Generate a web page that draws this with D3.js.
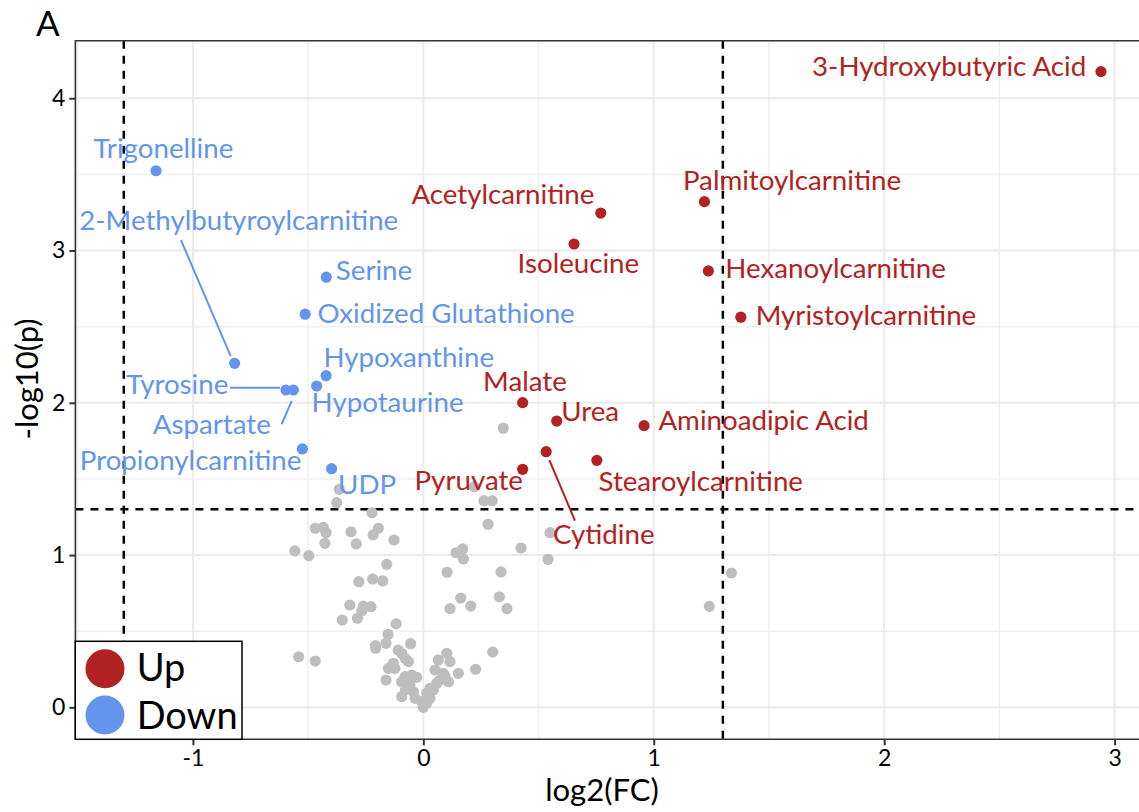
<!DOCTYPE html>
<html>
<head>
<meta charset="utf-8">
<script src="https://cdn.jsdelivr.net/npm/d3@7"></script>
<style>
  body { margin: 0; background: #fff; }
  svg text { font-family: "Lato", "Open Sans", sans-serif; }
</style>
</head>
<body>
<div id="chart"></div>
<script>
// Labelled metabolites: [name, log2FC, -log10p, group]
const sigNames = ["3-Hydroxybutyric Acid", "Trigonelline", "2-Methylbutyroylcarnitine", "Acetylcarnitine",
  "Palmitoylcarnitine", "Isoleucine", "Hexanoylcarnitine", "Myristoylcarnitine", "Serine",
  "Oxidized Glutathione", "Hypoxanthine", "Hypotaurine", "Tyrosine", "Aspartate",
  "Propionylcarnitine", "UDP", "Malate", "Urea", "Aminoadipic Acid", "Pyruvate",
  "Stearoylcarnitine", "Cytidine"];
const sigFC = [2.941, -1.160, -0.819, 0.770, 1.220, 0.654, 1.237, 1.378, -0.421, -0.513, -0.422, -0.463,
  -0.596, -0.564, -0.525, -0.398, 0.431, 0.579, 0.958, 0.431, 0.753, 0.533];
const sigP = [4.175, 3.524, 2.259, 3.246, 3.321, 3.043, 2.866, 2.562, 2.825, 2.582, 2.178, 2.110,
  2.084, 2.084, 1.697, 1.567, 2.001, 1.880, 1.850, 1.563, 1.622, 1.679];
const sigGroup = ["Up", "Down", "Down", "Up", "Up", "Up", "Up", "Up", "Down", "Down", "Down", "Down",
  "Down", "Down", "Down", "Down", "Up", "Up", "Up", "Up", "Up", "Up"];

// Non-significant metabolites
const nsFC = [-0.365, -0.376, 0.221, 0.263, 0.299, 0.347, -0.223, -0.469, -0.434, -0.422, -0.427, -0.314,
  -0.291, -0.218, -0.195, -0.127, 0.281, 0.550, -0.558, -0.497, 0.142, 0.171, 0.174, 0.424, 0.541,
  -0.159, 0.103, 0.337, -0.280, -0.220, -0.176, 0.162, 0.116, 0.206, 0.330, 0.363, -0.319, -0.260,
  -0.227, -0.267, -0.352, -0.286, -0.118, -0.153, -0.208, -0.207, -0.162, -0.055, -0.541, -0.469,
  1.337, 1.241, 0.301, 0.227,
  -0.109, -0.094, -0.079, -0.065, -0.130, -0.152, -0.123, -0.162, -0.079, -0.050, -0.094, -0.058,
  -0.043, -0.036, -0.007, 0.000, 0.015, 0.029, 0.043, 0.058, 0.072, 0.094, 0.109, 0.087, 0.051,
  0.065, 0.102, 0.116, 0.152, 0.029, 0.015, -0.078, -0.094, -0.029];
const nsP = [1.432, 1.344, 1.449, 1.357, 1.357, 1.833, 1.278, 1.176, 1.182, 1.147, 1.077, 1.153,
  1.073, 1.132, 1.176, 1.099, 1.202, 1.147, 1.027, 0.996, 1.015, 1.040, 0.974, 1.046, 0.972,
  0.939, 0.887, 0.889, 0.825, 0.843, 0.830, 0.718, 0.648, 0.665, 0.726, 0.648, 0.672, 0.665,
  0.661, 0.634, 0.573, 0.585, 0.549, 0.479, 0.405, 0.388, 0.420, 0.418, 0.332, 0.304,
  0.882, 0.663, 0.363, 0.250,
  0.376, 0.355, 0.322, 0.300, 0.289, 0.256, 0.256, 0.179, 0.201, 0.212, 0.168, 0.146,
  0.102, 0.059, 0.037, 0.000, 0.092, 0.125, 0.114, 0.158, 0.179, 0.201, 0.168, 0.223, 0.245,
  0.311, 0.355, 0.300, 0.223, 0.059, 0.026, 0.114, 0.070, 0.197];

const xTicks = [-1, 0, 1, 2, 3];
const yTicks = [0, 1, 2, 3, 4];
const xMinor = [-1.5, -0.5, 0.5, 1.5, 2.5];
const yMinor = [0.5, 1.5, 2.5, 3.5];
const fcCut = 1.3;
const pCut = -Math.log10(0.05);
const groups = ["Up", "Down"];

// Label placement (data coordinates of text centre / baseline), like ggrepel output
const labelX = [2.282, -1.128, -0.801, 0.345, 1.600, 0.673, 1.789, 1.921, -0.214, 0.099, -0.063, -0.155,
  -1.068, -0.918, -1.010, -0.244, 0.441, 0.724, 1.477, 0.197, 1.204, 0.783];
const labelY = [4.146, 3.605, 3.135, 3.304, 3.398, 2.851, 2.820, 2.511, 2.807, 2.524, 2.233, 1.942,
  2.058, 1.795, 1.559, 1.401, 2.078, 1.882, 1.821, 1.427, 1.423, 1.073];
// Connector segments [name, x1, y1, x2, y2]
const segments = [
  ["2-Methylbutyroylcarnitine", -1.052, 3.069, -0.836, 2.307],
  ["Tyrosine", -0.839, 2.099, -0.622, 2.099],
  ["Aspartate", -0.615, 1.859, -0.571, 2.012],
  ["Cytidine", 0.547, 1.624, 0.658, 1.226]
];

const width = 1139, height = 812;
const color = d3.scaleOrdinal().domain(groups).range(["#B22222", "#6495ED"]);

const x = d3.scaleLinear().domain([-1.51, 3.106]).range([75.4, 1139]);
const y = d3.scaleLinear().domain([-0.21, 4.378]).range([739.3, 40.7]);

const svg = d3.select("#chart").append("svg")
  .attr("width", width)
  .attr("height", height);

// panel grid
const grid = svg.append("g");
grid.selectAll(".vminor").data(xMinor).enter().append("line")
  .attr("x1", d => x(d)).attr("x2", d => x(d))
  .attr("y1", y.range()[0]).attr("y2", y.range()[1])
  .attr("stroke", "#F0F0F0").attr("stroke-width", 1.5);
grid.selectAll(".hminor").data(yMinor).enter().append("line")
  .attr("x1", x.range()[0]).attr("x2", x.range()[1])
  .attr("y1", d => y(d)).attr("y2", d => y(d))
  .attr("stroke", "#F0F0F0").attr("stroke-width", 1.5);
grid.selectAll(".vmajor").data(xTicks).enter().append("line")
  .attr("x1", d => x(d)).attr("x2", d => x(d))
  .attr("y1", y.range()[0]).attr("y2", y.range()[1])
  .attr("stroke", "#EBEBEB").attr("stroke-width", 2);
grid.selectAll(".hmajor").data(yTicks).enter().append("line")
  .attr("x1", x.range()[0]).attr("x2", x.range()[1])
  .attr("y1", d => y(d)).attr("y2", d => y(d))
  .attr("stroke", "#EBEBEB").attr("stroke-width", 2);

// threshold lines
[-fcCut, fcCut].forEach(v => {
  svg.append("line")
    .attr("x1", x(v)).attr("x2", x(v))
    .attr("y1", y.range()[1]).attr("y2", y.range()[0])
    .attr("stroke", "#000").attr("stroke-width", 2.5).attr("stroke-dasharray", "8,7");
});
svg.append("line")
  .attr("x1", x.range()[0]).attr("x2", x.range()[1])
  .attr("y1", y(pCut)).attr("y2", y(pCut))
  .attr("stroke", "#000").attr("stroke-width", 2.5).attr("stroke-dasharray", "8,7");

// grey points
svg.append("g").selectAll("circle")
  .data(d3.range(nsFC.length))
  .enter().append("circle")
  .attr("cx", i => x(nsFC[i]))
  .attr("cy", i => y(nsP[i]))
  .attr("r", 5.6)
  .attr("fill", "#BEBEBE");

// significant points
svg.append("g").selectAll("circle")
  .data(d3.range(sigNames.length))
  .enter().append("circle")
  .attr("cx", i => x(sigFC[i]))
  .attr("cy", i => y(sigP[i]))
  .attr("r", 5.6)
  .attr("fill", i => color(sigGroup[i]));

// connectors
svg.append("g").selectAll("line")
  .data(segments)
  .enter().append("line")
  .attr("x1", d => x(d[1])).attr("y1", d => y(d[2]))
  .attr("x2", d => x(d[3])).attr("y2", d => y(d[4]))
  .attr("stroke", d => color(sigGroup[sigNames.indexOf(d[0])]))
  .attr("stroke-width", 2);

// labels
svg.append("g").selectAll("text")
  .data(d3.range(sigNames.length))
  .enter().append("text")
  .attr("x", i => x(labelX[i]))
  .attr("y", i => y(labelY[i]))
  .attr("text-anchor", "middle")
  .attr("font-size", 27.7)
  .attr("fill", i => color(sigGroup[i]))
  .text(i => sigNames[i]);

// axes
const xAxis = svg.append("g")
  .attr("transform", `translate(0, ${y.range()[0]})`)
  .call(d3.axisBottom(x).tickValues(xTicks).tickSize(6).tickPadding(4).tickFormat(d3.format("d")));
const yAxis = svg.append("g")
  .attr("transform", `translate(${x.range()[0]}, 0)`)
  .call(d3.axisLeft(y).tickValues(yTicks).tickSize(6).tickPadding(4).tickFormat(d3.format("d")));
[xAxis, yAxis].forEach(a => {
  a.select(".domain").remove();
  a.selectAll(".tick line").attr("stroke", "#333").attr("stroke-width", 2);
  a.selectAll(".tick text").attr("fill", "#000").attr("font-size", 23)
    .style("font-family", "Lato, 'Open Sans', sans-serif");
});
xAxis.selectAll(".tick text").text(d => d < 0 ? "-" + Math.abs(d) : d);

// panel border
svg.append("path")
  .attr("d", `M${x.range()[1] + 2},${y.range()[1]} H${x.range()[0]} V${y.range()[0]} H${x.range()[1] + 2}`)
  .attr("fill", "none").attr("stroke", "#333").attr("stroke-width", 1.6);

// legend
const legend = svg.append("g");
legend.append("rect")
  .attr("x", 75.3).attr("y", 641.3).attr("width", 166.7).attr("height", 98)
  .attr("fill", "#fff").attr("stroke", "#000").attr("stroke-width", 1.5);
groups.forEach((g, i) => {
  legend.append("circle").attr("cx", 105).attr("cy", 668.7 + i * 46.3).attr("r", 19.5).attr("fill", color(g));
  legend.append("text").attr("x", 136.7).attr("y", 680.5 + i * 48.8)
    .attr("font-size", 38).attr("fill", "#000").text(g);
});

// axis titles
svg.append("text")
  .attr("x", 602).attr("y", 801)
  .attr("text-anchor", "middle").attr("font-size", 31).attr("fill", "#000")
  .text("log2(FC)");
svg.append("text")
  .attr("transform", "translate(38, 379) rotate(-90)")
  .attr("text-anchor", "middle").attr("font-size", 31).attr("fill", "#000")
  .text("-log10(p)");

svg.append("text")
  .attr("x", 36).attr("y", 36)
  .attr("font-size", 35).attr("fill", "#000")
  .text("A");
</script>
</body>
</html>
